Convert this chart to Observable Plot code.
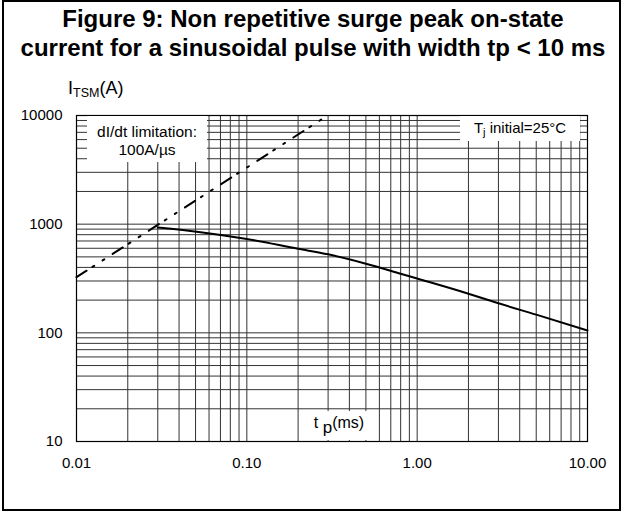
<!DOCTYPE html>
<html>
<head>
<meta charset="utf-8">
<script src="https://cdn.jsdelivr.net/npm/d3@7"></script>
<script src="https://cdn.jsdelivr.net/npm/@observablehq/plot@0.6"></script>
<style>
  html, body { margin: 0; padding: 0; background: #fff; }
  #wrap { position: relative; width: 626px; height: 513px; overflow: hidden; font-family: Arial, "Liberation Sans", sans-serif; color: #000; }
  #chart { position: absolute; left: 0; top: 0; }
  #border { position: absolute; left: 2px; top: 0; width: 619px; height: 511px; box-sizing: border-box; border: 2px solid #000; pointer-events: none; }
  #title { position: absolute; left: 0; top: 4px; width: 626px; text-align: center; font-weight: bold; font-size: 24px; line-height: 29px; white-space: nowrap; }
  #ylabel { position: absolute; left: 68px; top: 78px; font-size: 18px; line-height: 20px; }
  #ylabel sub { font-size: 12.5px; vertical-align: -3px; line-height: 0; }
  .box { position: absolute; background: #fff; font-size: 15px; text-align: center; white-space: nowrap; }
  #didt { left: 87px; top: 116px; width: 120px; height: 46px; line-height: 18px; padding-top: 7px; box-sizing: border-box; font-size: 15.5px; }
  #tj { left: 460px; top: 116px; width: 120px; height: 25px; line-height: 20px; padding-top: 2px; box-sizing: border-box; }
  #tj sub { font-size: 11px; vertical-align: -3px; line-height: 0; }
  #tpl { left: 300px; top: 411px; width: 78px; height: 29px; line-height: 20px; padding-top: 2px; box-sizing: border-box; font-size: 16px; }
  #tpl sub { font-size: 17px; vertical-align: -5px; line-height: 0; }
  #tpl span { font-size: 16px; }
</style>
</head>
<body>
<div id="wrap">
  <div id="chart"></div>
  <div id="title">Figure 9: Non repetitive surge peak on-state<br>current for a sinusoidal pulse with width tp &lt; 10 ms</div>
  <div id="ylabel">I<sub>TSM</sub>(A)</div>
  <div class="box" id="didt">dI/dt limitation:<br>100A/µs</div>
  <div class="box" id="tj">T<sub>j</sub> initial=25°C</div>
  <div class="box" id="tpl">t <sub>p</sub><span>(ms)</span></div>
  <div id="border"></div>
</div>
<script>
// Surge current curve (solid)
const tpMs = [0.03, 0.0535, 0.1, 0.2, 0.3, 0.5, 0.8, 1.0, 2, 3, 5, 10];
const itsmA = [930, 843, 730, 594, 528, 433, 350, 316, 229, 187, 147, 105];
// dI/dt limitation line (dash-dot)
const limTpMs = [0.01, 0.298];
const limItsmA = [325, 10000];
// Axis ticks
const xTicks = [0.01, 0.1, 1, 10];
const xTickLabels = ["0.01", "0.10", "1.00", "10.00"];
const yTicks = [10, 100, 1000, 10000];
const yTickLabels = ["10", "100", "1000", "10000"];
const gridMultipliers = [1, 2, 3, 4, 5, 6, 7, 8, 9];
const xDecades = [0.01, 0.1, 1];
const yDecades = [10, 100, 1000];

const xGrid = xDecades.flatMap(d => gridMultipliers.map(m => +(d * m).toPrecision(3))).concat([10]);
const yGrid = yDecades.flatMap(d => gridMultipliers.map(m => d * m)).concat([10000]);

const xLabelMap = new Map(xTicks.map((t, i) => [t, xTickLabels[i]]));
const yLabelMap = new Map(yTicks.map((t, i) => [t, yTickLabels[i]]));

const curve = tpMs.map((t, i) => ({t, v: itsmA[i]}));
const lim = limTpMs.map((t, i) => ({t, v: limItsmA[i]}));

const chart = Plot.plot({
  width: 626,
  height: 513,
  marginLeft: 76,
  marginRight: 39,
  marginTop: 115,
  marginBottom: 72,
  style: {background: "transparent", fontFamily: "Arial, 'Liberation Sans', sans-serif", fontSize: "15px", color: "#000"},
  x: {type: "log", domain: [0.01, 10]},
  y: {type: "log", domain: [10, 10000]},
  marks: [
    Plot.ruleX(xGrid, {x: d => d, stroke: "#333", strokeWidth: 1}),
    Plot.ruleY(yGrid, {y: d => d, stroke: "#333", strokeWidth: 1}),
    Plot.line(lim, {x: "t", y: "v", stroke: "#000", strokeWidth: 2, strokeDasharray: "12,7,2,10,2,10"}),
    Plot.line(curve, {x: "t", y: "v", stroke: "#000", strokeWidth: 2, curve: "monotone-x"}),
    Plot.frame({stroke: "#000", strokeWidth: 1.2}),
    Plot.axisX({ticks: xTicks, tickSize: 0, tickPadding: 16, tickFormat: d => xLabelMap.get(d) ?? "", fontSize: 15, label: null}),
    Plot.axisY({ticks: yTicks, tickSize: 0, tickPadding: 14, tickFormat: d => yLabelMap.get(d) ?? "", fontSize: 15, label: null})
  ]
});
document.getElementById("chart").appendChild(chart);
</script>
</body>
</html>
